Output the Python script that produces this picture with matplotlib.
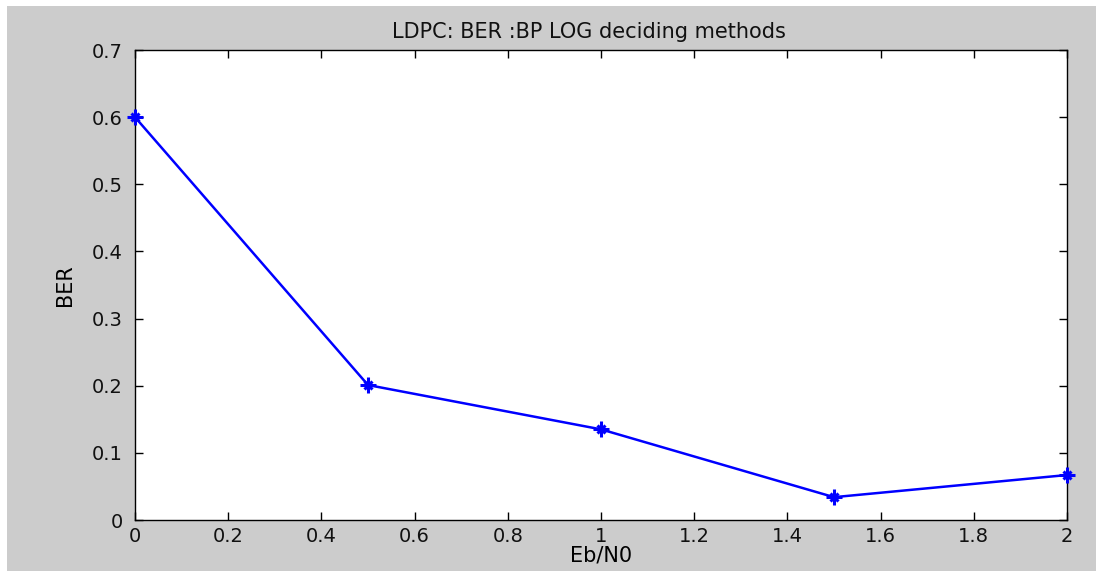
import matplotlib
matplotlib.use("Agg")
import matplotlib.pyplot as plt
from matplotlib.patches import Rectangle

# data
ebn0 = [0.0, 0.5, 1.0, 1.5, 2.0]
ber = [0.600, 0.201, 0.135, 0.034, 0.067]

xticks = [0, 0.2, 0.4, 0.6, 0.8, 1, 1.2, 1.4, 1.6, 1.8, 2]
xtick_labels = ["0", "0.2", "0.4", "0.6", "0.8", "1", "1.2", "1.4", "1.6", "1.8", "2"]
yticks = [0, 0.1, 0.2, 0.3, 0.4, 0.5, 0.6, 0.7]
ytick_labels = ["0", "0.1", "0.2", "0.3", "0.4", "0.5", "0.6", "0.7"]

plt.rcParams.update({
    'font.family': 'DejaVu Sans', 'font.size': 14,
    'axes.linewidth': 1.0, 'text.color': '#111111',
})

W, H = 1096, 571
fig = plt.figure(figsize=(W / 100, H / 100), dpi=100, facecolor='white')
# grey MATLAB-like figure background with a thin white margin top/left
fig.patches.append(Rectangle((7 / W, 0), 1 - 7 / W, 1 - 6 / H,
                             transform=fig.transFigure, facecolor='#cccccc',
                             edgecolor='none', zorder=-10))

ax = fig.add_axes([135 / W, 51 / H, 932 / W, 470 / H])
ax.set_zorder(5)
ax.set_facecolor('white')
ax.plot(ebn0, ber, color='#0000ff', linewidth=1.8, clip_on=False, zorder=3)
# MATLAB '*' marker = plus + cross strokes
ax.plot(ebn0, ber, linestyle='none', color='#0000ff', marker='+',
        markersize=11, markeredgewidth=2.2, clip_on=False, zorder=4)
ax.plot(ebn0, ber, linestyle='none', color='#0000ff', marker='x',
        markersize=6, markeredgewidth=2.2, clip_on=False, zorder=4)

ax.set_xlim(0, 2)
ax.set_ylim(0, 0.7)
ax.set_xticks(xticks)
ax.set_xticklabels(xtick_labels)
ax.set_yticks(yticks)
ax.set_yticklabels(ytick_labels)
ax.tick_params(direction='in', length=6, width=1, top=True, right=True,
               labelsize=14, labelcolor='#111111')
ax.tick_params(axis='x', pad=5)
ax.tick_params(axis='y', pad=9)

ax.set_title('LDPC: BER :BP LOG deciding methods', fontsize=15, pad=9,
             x=0.487)
ax.set_xlabel('Eb/N0', fontsize=15, labelpad=0)
ax.set_ylabel('BER', fontsize=15, labelpad=12)

fig.savefig('out.png', dpi=100, facecolor=fig.get_facecolor())
